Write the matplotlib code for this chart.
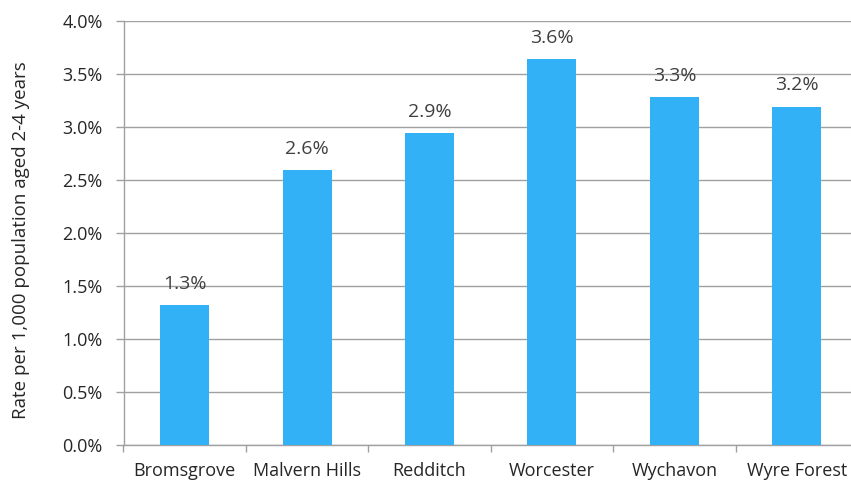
import matplotlib
matplotlib.use("Agg")
import matplotlib.pyplot as plt
from matplotlib.ticker import FuncFormatter, FixedLocator
import numpy as np

categories = ["Bromsgrove", "Malvern Hills", "Redditch", "Worcester", "Wychavon", "Wyre Forest"]
values = [1.32, 2.59, 2.94, 3.64, 3.28, 3.19]  # percent
yticks = [0.0, 0.5, 1.0, 1.5, 2.0, 2.5, 3.0, 3.5, 4.0]
ylabel = "Rate per 1,000 population aged 2-4 years"

plt.rcParams['font.family'] = ['Open Sans', 'DejaVu Sans']

fig = plt.figure(figsize=(8.51, 4.83), dpi=100)
ax = fig.add_axes([123.5/851, 38/483, (858-123.5)/851, (445-21)/483])

x = np.arange(len(categories))
bar_color = "#33B1F6"
ax.bar(x, values, width=0.4, color=bar_color, zorder=3)

for xi, v in zip(x, values):
    ax.annotate(f"{v:.1f}%", (xi, v), xytext=(0, 9), textcoords="offset points",
                ha="center", va="bottom", fontsize=14, color="#404040")

ax.set_xlim(-0.5, len(categories) - 0.5)
ax.set_ylim(0, 4.0)
ax.yaxis.set_major_locator(FixedLocator(yticks))
ax.yaxis.set_major_formatter(FuncFormatter(lambda v, p: f"{v:.1f}%"))
ax.grid(axis="y", color="#A0A0A0", linewidth=1.0, zorder=0)

ax.set_xticks(x)
ax.set_xticklabels(categories, fontsize=13, color="#262626")
ax.tick_params(axis="x", which="major", length=0, pad=12)
ax.set_xticks(np.arange(len(categories) + 1) - 0.5, minor=True)
ax.tick_params(axis="x", which="minor", length=5, color="#A0A0A0", width=1)
ax.tick_params(axis="y", length=6, color="#A0A0A0", width=1, labelsize=13, labelcolor="#262626", pad=9)

for s in ["top", "right"]:
    ax.spines[s].set_visible(False)
for s in ["left", "bottom"]:
    ax.spines[s].set_color("#A0A0A0")
    ax.spines[s].set_linewidth(1.0)

fig.text(21/851, 1 - 240/483, ylabel, rotation=90, ha="center", va="center",
         fontsize=13.5, color="#262626")

fig.savefig("out.png", dpi=100)
